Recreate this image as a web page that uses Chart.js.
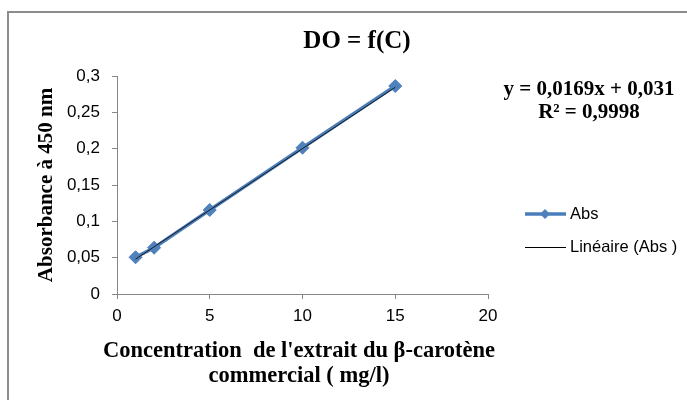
<!DOCTYPE html>
<html>
<head>
<meta charset="utf-8">
<script src="https://cdn.jsdelivr.net/npm/chart.js@4"></script>
<style>
  body { margin: 0; background: #fff; }
  #wrap { position: relative; width: 687px; height: 400px; overflow: hidden; }
  #frame { position: absolute; left: 7px; top: 11px; width: 800px; height: 500px; border: 2px solid #8c8c8c; }
  canvas { position: absolute; left: 0; top: 0; }
</style>
</head>
<body>
<div id="wrap">
  <div id="frame"></div>
  <canvas id="chart" width="687" height="400"></canvas>
</div>
<script>
const concentrations = [1, 2, 5, 10, 15];
const absorbances = [0.0505, 0.0637, 0.1156, 0.2013, 0.2862];
const trendX = [1, 15];
const trendY = [0.048, 0.2845];
const xTicks = [0, 5, 10, 15, 20];
const yTicks = [0, 0.05, 0.1, 0.15, 0.2, 0.25, 0.3];

const chartTitle = 'DO = f(C)';
const equation = ['y = 0,0169x + 0,031', 'R² = 0,9998'];
const xTitle = ["Concentration  de l'extrait du β-carotène", 'commercial ( mg/l)'];
const seriesName = 'Abs';
const trendName = 'Linéaire (Abs )';

const BLUE = '#4a7ebb';
const SERIF = '"Liberation Serif", "Times New Roman", serif';
const SANS = '"Liberation Sans", Arial, sans-serif';

const textPlugin = {
    id: 'texts',
    afterDraw(chart) {
        const ctx = chart.ctx;
        ctx.save();
        ctx.fillStyle = '#000';
        ctx.textAlign = 'center';
        ctx.textBaseline = 'middle';
        ctx.font = 'bold 25px ' + SERIF;
        ctx.fillText(chartTitle, 357, 42);

        ctx.font = 'bold 21px ' + SERIF;
        ctx.fillText(equation[0], 589, 90);
        ctx.fillText(equation[1], 589, 113);

        // x axis title, wider than the plot area so drawn here
        ctx.font = 'bold 22.5px ' + SERIF;
        ctx.fillText(xTitle[0], 299, 351);
        ctx.fillText(xTitle[1], 299, 376);

        // legend
        ctx.strokeStyle = BLUE;
        ctx.lineWidth = 3.5;
        ctx.beginPath(); ctx.moveTo(525, 214); ctx.lineTo(566, 214); ctx.stroke();
        ctx.fillStyle = '#4f81bd';
        ctx.beginPath();
        ctx.moveTo(545, 209); ctx.lineTo(550, 214); ctx.lineTo(545, 219); ctx.lineTo(540, 214);
        ctx.closePath(); ctx.fill();
        ctx.strokeStyle = '#000';
        ctx.lineWidth = 1;
        ctx.beginPath(); ctx.moveTo(525, 247.5); ctx.lineTo(566, 247.5); ctx.stroke();

        ctx.fillStyle = '#000';
        ctx.textAlign = 'left';
        ctx.font = '16.5px ' + SANS;
        ctx.fillText(seriesName, 570, 214);
        ctx.fillText(trendName, 570, 247);
        ctx.restore();
    }
};

const fmt = v => String(Math.round(v * 100) / 100).replace('.', ',');

new Chart(document.getElementById('chart'), {
    type: 'scatter',
    data: {
        datasets: [
            {
                label: seriesName,
                data: concentrations.map((c, i) => ({ x: c, y: absorbances[i] })),
                showLine: true,
                borderColor: BLUE,
                borderWidth: 3.5,
                pointStyle: 'rectRot',
                pointRadius: 6.5,
                pointBackgroundColor: '#4f81bd',
                pointBorderColor: '#4a7ebb',
                pointBorderWidth: 1,
                order: 2
            },
            {
                label: trendName,
                data: trendX.map((c, i) => ({ x: c, y: trendY[i] })),
                showLine: true,
                borderColor: '#1a1a1a',
                borderWidth: 1,
                pointRadius: 0,
                order: 1
            }
        ]
    },
    options: {
        responsive: false,
        animation: false,
        layout: { padding: { left: 0, top: 76, right: 199, bottom: 0 } },
        plugins: { legend: { display: false }, tooltip: { enabled: false } },
        scales: {
            x: {
                type: 'linear',
                min: 0, max: 20,
                afterBuildTicks: s => { s.ticks = xTicks.map(v => ({ value: v })); },
                afterFit: s => { s.height = 106; },
                border: { color: '#868686', width: 1 },
                grid: { drawOnChartArea: false, drawTicks: true, tickLength: 5, color: '#868686' },
                ticks: { color: '#000', padding: 7, font: { family: SANS, size: 17 } }
            },
            y: {
                type: 'linear',
                min: 0, max: 0.3,
                afterBuildTicks: s => { s.ticks = yTicks.map(v => ({ value: v })); },
                afterFit: s => { s.width = 117; },
                border: { color: '#868686', width: 1 },
                grid: { drawOnChartArea: false, drawTicks: true, tickLength: 5, color: '#868686' },
                ticks: { color: '#000', padding: 12, font: { family: SANS, size: 17 }, callback: v => fmt(v) },
                title: {
                    display: true,
                    text: 'Absorbance à 450 nm',
                    color: '#000',
                    font: { family: SERIF, size: 21, weight: 'bold', lineHeight: 1.3 },
                    padding: { top: 33, bottom: 0 }
                }
            }
        }
    },
    plugins: [textPlugin]
});
</script>
</body>
</html>
